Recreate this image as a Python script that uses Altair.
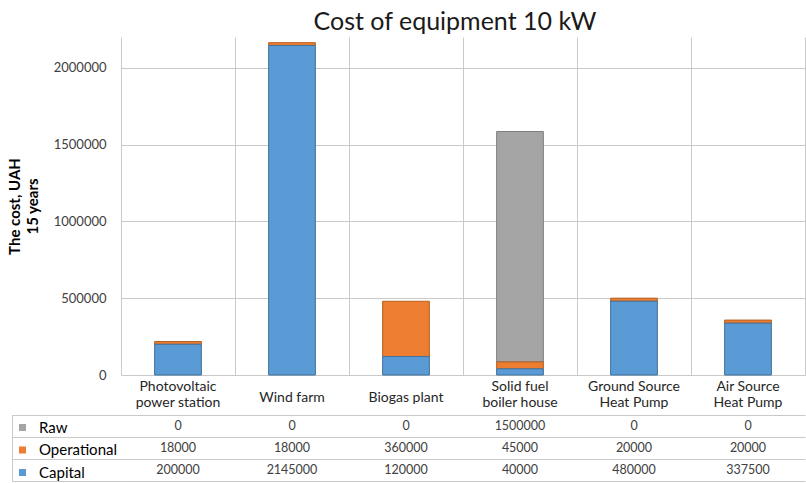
import altair as alt
import pandas as pd

# ---- data ----
categories = ["Photovoltaic|power station", "Wind farm", "Biogas plant",
              "Solid fuel|boiler house", "Ground Source|Heat Pump", "Air Source|Heat Pump"]
series = ["Raw", "Operational", "Capital"]
raw = [0, 0, 0, 1500000, 0, 0]
operational = [18000, 18000, 360000, 45000, 20000, 20000]
capital = [200000, 2145000, 120000, 40000, 480000, 337500]
y_ticks = [0, 500000, 1000000, 1500000, 2000000]

fill_colors = ["#A5A5A5", "#ED7D31", "#5B9BD5"]
stroke_colors = ["#7F7F7F", "#B5601F", "#41719C"]
GRID = "#C9C9C9"

rows = []
for s, vals in zip(series, [raw, operational, capital]):
    for c, v in zip(categories, vals):
        rows.append({"category": c, "series": s, "value": v,
                     "stack": len(series) - 1 - series.index(s)})
df = pd.DataFrame(rows)
cat_df = pd.DataFrame({"category": categories, "row": ["header"] * len(categories)})

x_scale = alt.Scale(domain=categories, paddingInner=0, paddingOuter=0)


def x_enc(orient=None):
    if orient is None:
        return alt.X("category:N", sort=categories, scale=x_scale, axis=None)
    return alt.X("category:N", sort=categories, scale=x_scale,
                 axis=alt.Axis(title=None, orient=orient, labels=False, ticks=False,
                               domain=False, grid=True, gridColor=GRID,
                               tickBand="extent"))


table_y_scale = alt.Scale(domain=series, range=[378, 444], paddingInner=0, paddingOuter=0)
header_y_scale = alt.Scale(domain=["header"], range=[338, 378], paddingInner=0, paddingOuter=0)

bars = alt.Chart(df).transform_filter("datum.value > 0").mark_bar(
    width=alt.RelativeBandSize(0.41), strokeWidth=1
).encode(
    x=x_enc("top"),
    y=alt.Y("value:Q", stack="zero",
            scale=alt.Scale(domain=[0, 2200000], range=[338, 0], nice=False, zero=True),
            axis=alt.Axis(values=y_ticks, format="d", grid=True, gridColor=GRID,
                          domain=False, ticks=False, labelPadding=15,
                          labelFont="Lato", labelFontSize=13, labelColor="#404040",
                          title=["The cost, UAH", "15 years"], titleFont="Lato",
                          titleFontSize=15, titleFontWeight="bold", titleColor="#000000",
                          titlePadding=13, titleLineHeight=18)),
    color=alt.Color("series:N", scale=alt.Scale(domain=series, range=fill_colors),
                    legend=alt.Legend(orient="none", legendX=-106, legendY=383,
                                      direction="vertical", title=None,
                                      symbolType="square", symbolSize=49,
                                      symbolStrokeWidth=0, labelFont="Lato",
                                      labelFontSize=15, labelColor="#000000",
                                      labelOffset=9, rowPadding=6.5, padding=0)),
    stroke=alt.Stroke("series:N", scale=alt.Scale(domain=series, range=stroke_colors),
                      legend=None),
    order=alt.Order("stack:Q"),
)

table_text = alt.Chart(df).mark_text(font="Lato", fontSize=12.5, color="#404040",
                                     baseline="middle").encode(
    x=x_enc("bottom"),
    y=alt.Y("series:N", sort=series, scale=table_y_scale,
            axis=alt.Axis(orient="left", title=None, labels=False, domain=False,
                          grid=True, gridColor=GRID, ticks=True, tickSize=109,
                          tickColor=GRID, tickBand="extent")),
    text=alt.Text("value:Q", format="d"),
)

table_border = alt.Chart(df).mark_point(opacity=0).encode(
    x=x_enc(),
    y=alt.Y("series:N", sort=series, scale=table_y_scale,
            axis=alt.Axis(orient="left", offset=109, title=None, labels=False,
                          ticks=False, grid=False, domain=True, domainColor=GRID)),
)

header_style = dict(font="Lato", fontSize=14, color="#262626", baseline="middle",
                    lineBreak="|", lineHeight=16)

header_two = alt.Chart(cat_df).transform_filter(
    "indexof(datum.category, '|') >= 0"
).mark_text(dy=-8, **header_style).encode(
    x=x_enc(),
    y=alt.Y("row:N", scale=header_y_scale, axis=None),
    text="category:N",
)

header_one = alt.Chart(cat_df).transform_filter(
    "indexof(datum.category, '|') < 0"
).mark_text(dy=3, **header_style).encode(
    x=x_enc(),
    y=alt.Y("row:N", scale=header_y_scale, axis=None),
    text="category:N",
)

chart = alt.layer(bars, table_text, table_border, header_two, header_one).resolve_scale(
    x="independent", y="independent", color="independent", stroke="independent"
).properties(
    width=684, height=446,
    autosize=alt.AutoSizeParams(type="none"),
    padding={"left": 121, "top": 37, "right": 1, "bottom": 0},
    title=alt.TitleParams("Cost of equipment 10 kW", font="Lato", fontSize=25,
                          fontWeight="normal", color="#1A1A1A", anchor="middle",
                          offset=2, dx=-8),
).configure_view(stroke=None)

chart.save("out.html", embed_options={"renderer": "svg", "actions": False})
